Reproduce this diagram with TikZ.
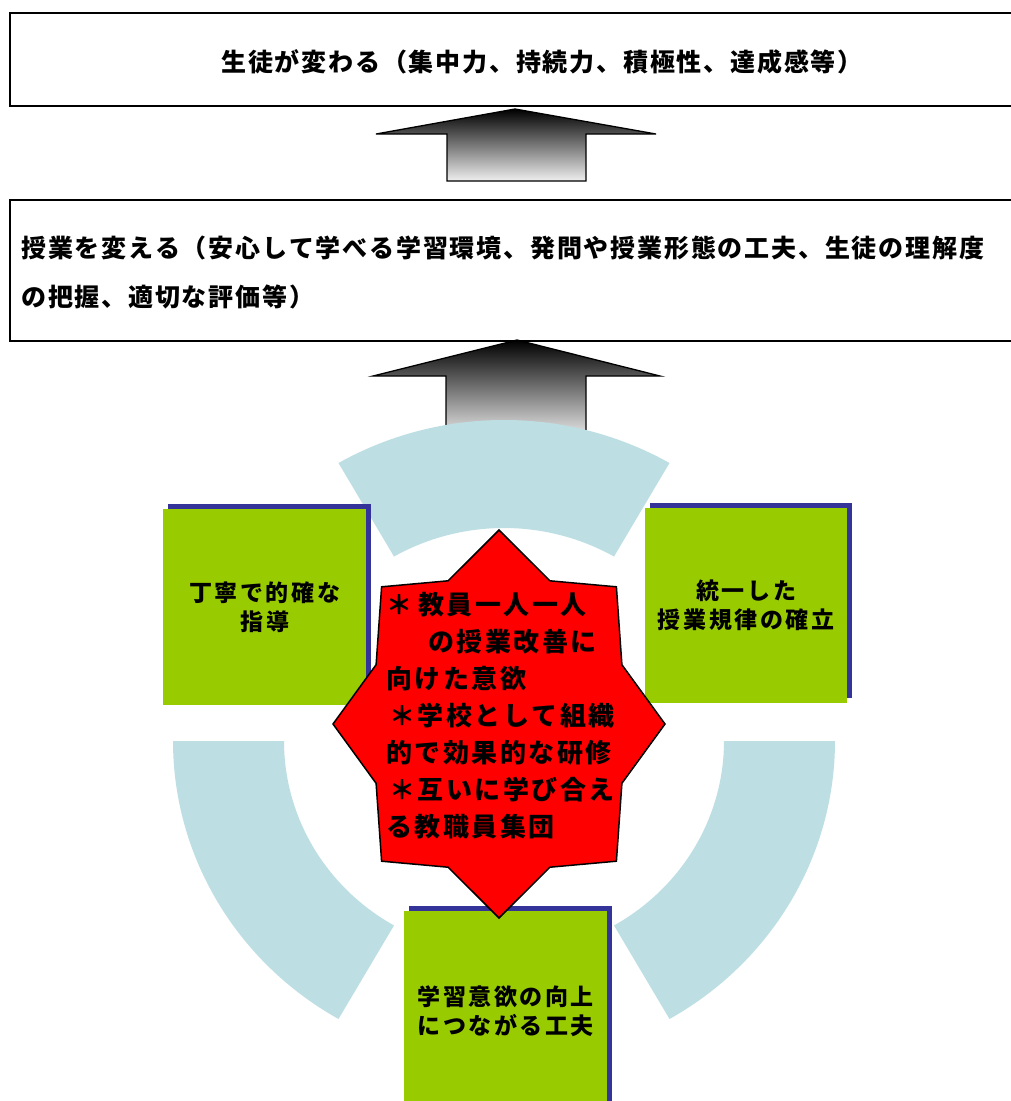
\documentclass[tikz,border=0pt]{standalone}
\usepackage{fontspec}
\newfontfamily\jp{Noto Sans CJK JP}
\usetikzlibrary{shadows}
\definecolor{ringblue}{RGB}{189,223,228}
\definecolor{boxgreen}{RGB}{153,204,0}
\definecolor{shadownavy}{RGB}{51,51,153}
\definecolor{starred}{RGB}{255,0,0}
\def\lskern{3pt}
\def\setlskern#1{\def\lskern{#1}}
\def\lsend{LSEND}
\def\lsgobble#1{}
\def\ls#1{\lsloop#1\lsend}
\def\lsloop#1#2{#1\ifx#2\lsend\expandafter\lsgobble\else\kern\lskern\relax\expandafter\lsloop\fi#2}
\begin{document}
\begin{tikzpicture}[x=1pt,y=-1pt,
  panel/.style={draw=black, line width=1.5pt, fill=white, inner sep=0pt},
  ptext/.style={inner sep=0pt, text=black, font={\jp\bfseries\fontsize{25}{49}\selectfont\setlskern{1.8pt}}},
  uparrow/.style={top color=black, bottom color=black!6, draw=black, line width=1.3pt, line join=miter},
  ring/.style={fill=ringblue, draw=none},
  gbox/.style={fill=boxgreen, draw=none, inner sep=0pt, align=center,
    general shadow={fill=shadownavy, shadow xshift=5pt, shadow yshift=5pt},
    font={\jp\bfseries\fontsize{23}{29}\selectfont\setlskern{2.6pt}}},
  starsty/.style={fill=starred, draw=black, line width=1.5pt, line join=miter},
  stext/.style={inner sep=0pt, align=left, font={\jp\bfseries\fontsize{26}{37}\selectfont\setlskern{2.5pt}}}
]
\useasboundingbox (0,0) rectangle (1010,1101);
\fill[white] (0,0) rectangle (1010,1101);

% top panel
\node[panel, anchor=north west, minimum width=1100pt, minimum height=93pt] (goal) at (9,12) {};
\node[ptext] (goaltext) at (542,62) {\ls{生徒が変わる（集中力、持続力、積極性、達成感等）}};

% second panel
\node[panel, anchor=north west, minimum width=1100pt, minimum height=141pt] (change) at (9,199) {};
\node[ptext, anchor=west, align=left] (changetext) at (21,272.5)
  {\ls{授業を変える（安心して学べる学習環境、発問や授業形態の工夫、生徒の理解度}\\
   \ls{の把握、適切な評価等）}};

% block arrows
\shadedraw[uparrow] (515,109) -- (656,134) -- (586,134) -- (586,181) -- (447,181) -- (447,134) -- (376,134) -- cycle;
\shadedraw[uparrow] (517,340) -- (660,376) -- (586,376) -- (586,440) -- (446,440) -- (446,376) -- (373,376) -- cycle;

% ring segments
\fill[ring] plot[domain=60:120, samples=61, variable=\t] ({504+331*cos(\t)},{741-321*sin(\t)})
  -- plot[domain=120:60, samples=61, variable=\t] ({504+220*cos(\t)},{741-213*sin(\t)}) -- cycle;
\fill[ring] plot[domain=180:240, samples=61, variable=\t] ({504+331*cos(\t)},{741-321*sin(\t)})
  -- plot[domain=240:180, samples=61, variable=\t] ({504+220*cos(\t)},{741-213*sin(\t)}) -- cycle;
\fill[ring] plot[domain=-60:0, samples=61, variable=\t] ({504+331*cos(\t)},{741-321*sin(\t)})
  -- plot[domain=0:-60, samples=61, variable=\t] ({504+220*cos(\t)},{741-213*sin(\t)}) -- cycle;

% green boxes
\node[gbox, anchor=north west, minimum width=203pt, minimum height=196pt] (lbox) at (163,509)
  {\ls{丁寧で的確な}\\\ls{指導}};
\node[gbox, anchor=north west, minimum width=202pt, minimum height=195pt] (rbox) at (645,508)
  {\ls{統一した}\\\ls{授業規律の確立}};
\node[gbox, anchor=north west, minimum width=203pt, minimum height=200pt] (bbox) at (404,911)
  {\ls{学習意欲の向上}\\\ls{につながる工夫}};

% central star
\filldraw[starsty] (499,530) -- (549.9,580.8) -- (616.4,586.8) -- (621.9,664.7) -- (665,724)
  -- (621.9,783.3) -- (616.4,861.2) -- (549.9,867.2) -- (499,918) -- (448.1,867.2)
  -- (381.6,861.2) -- (376.1,783.3) -- (333,724) -- (376.1,664.7) -- (381.6,586.8)
  -- (448.1,580.8) -- cycle;
\node[stext, anchor=west] (startext) at (386,716)
  {\ls{＊}\kern6pt\ls{教員一人一人}\\
   \hspace*{42pt}\ls{の授業改善に}\\
   \ls{向けた意欲}\\
   \kern3pt\ls{＊学校として組織}\\
   \ls{的で効果的な研修}\\
   \kern3pt\ls{＊互いに学び合え}\\
   \ls{る教職員集団}};
\end{tikzpicture}
\end{document}
